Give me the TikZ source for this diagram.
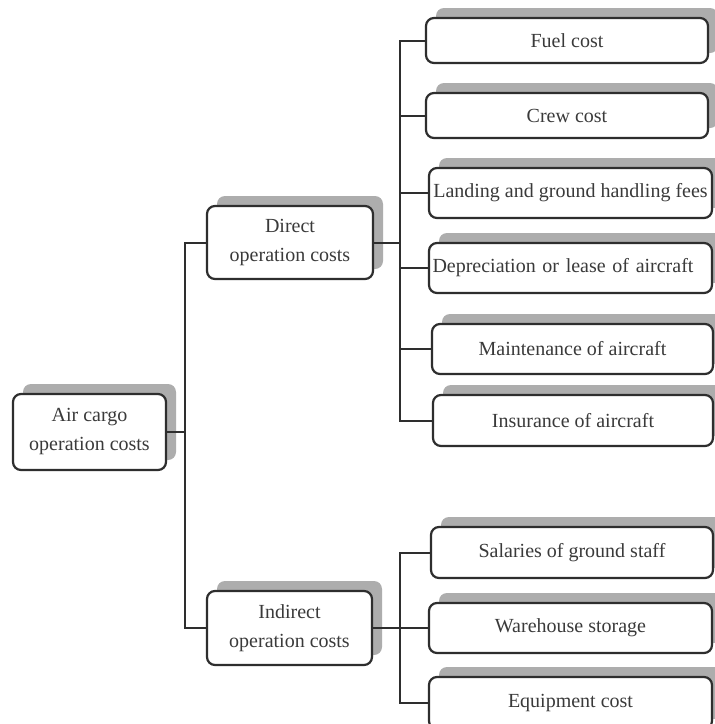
\documentclass[tikz,border=0pt]{standalone}
\usepackage{fontspec}
\setmainfont{Liberation Serif}
\usetikzlibrary{shadows}
\definecolor{linegray}{HTML}{2E2E2E}
\definecolor{textgray}{HTML}{3A3A3A}
\definecolor{shadegray}{HTML}{ADADAD}
\tikzset{
  costbox/.style={draw=linegray, line width=2.2pt, rounded corners=8pt, fill=white,
    text=textgray, align=center, inner sep=2pt,
    font=\fontsize{20}{29}\selectfont,
    general shadow={fill=shadegray, shadow xshift=10pt, shadow yshift=10pt}},
  link/.style={draw=linegray, line width=2pt}
}
\begin{document}
\begin{tikzpicture}[x=1pt, y=-1pt]
\clip (0,0) rectangle (715,724);
\fill[white] (0,0) rectangle (715,724);

% root and second level
\node[costbox, minimum width=153pt, minimum height=76pt] (root) at (89.5,432) {Air cargo\\operation costs};
\node[costbox, minimum width=166pt, minimum height=73pt] (direct) at (290,242.5) {Direct\\operation costs};
\node[costbox, minimum width=165pt, minimum height=74pt] (indirect) at (289.5,628) {Indirect\\operation costs};

% direct cost items
\node[costbox, minimum width=282pt, minimum height=45pt] (fuel) at (567,40.5) {Fuel cost};
\node[costbox, minimum width=282pt, minimum height=45pt] (crew) at (567,115.5) {Crew cost};
\node[costbox, minimum width=283pt, minimum height=50pt] (landing) at (570.5,193) {Landing and ground handling fees};
\node[costbox, minimum width=283pt, minimum height=50pt, text width=276pt, align=left] (deprec) at (570.5,268) {Depreciation or lease of aircraft};
\node[costbox, minimum width=281pt, minimum height=50pt] (maint) at (572.5,349) {Maintenance of aircraft};
\node[costbox, minimum width=280pt, minimum height=51pt] (insur) at (573,420.5) {Insurance of aircraft};

% indirect cost items
\node[costbox, minimum width=282pt, minimum height=51pt] (salary) at (572,552.5) {Salaries of ground staff};
\node[costbox, minimum width=283pt, minimum height=50pt] (wareh) at (570.5,628) {Warehouse storage};
\node[costbox, minimum width=283pt, minimum height=52pt] (equip) at (570.5,703) {Equipment cost};

% branching points
\coordinate (rb) at (185,432);
\coordinate (db) at (400,242.5);
\coordinate (ib) at (400,628);

% connectors
\draw[link] (root.east) -- (rb);
\draw[link] (direct.west) -| (rb) |- (indirect.west);
\draw[link] (direct.east) -- (db);
\foreach \n in {fuel,crew,landing,deprec,maint,insur}
  \draw[link] (db) |- (\n.west);
\draw[link] (indirect.east) -- (ib);
\foreach \n in {salary,wareh,equip}
  \draw[link] (ib) |- (\n.west);
\end{tikzpicture}
\end{document}
